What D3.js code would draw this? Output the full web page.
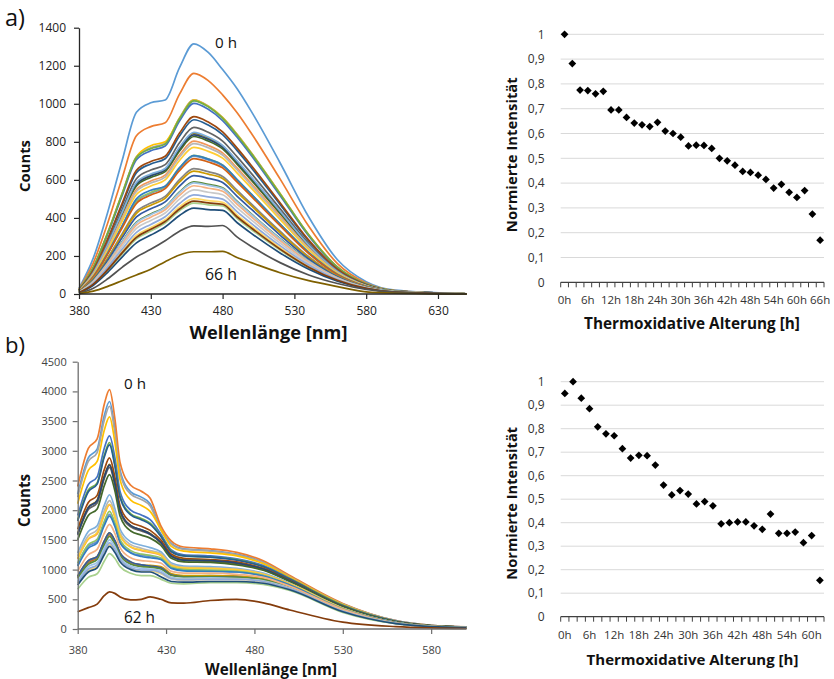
<!DOCTYPE html>
<html><head><meta charset="utf-8">
<script src="https://cdn.jsdelivr.net/npm/d3@7"></script>
<style>body{margin:0;background:#fff}svg{display:block}text{font-family:"Open Sans",sans-serif}</style>
</head><body><svg id="c" width="834" height="679"></svg>
<script>
// ---------- DATA ----------
const wavelengthsA = [380,390,400,410,420,430,440,450,460,470,480,490,500,520,540,560,580,600,650];
const spectraA = [
[30,190,430,700,955,1005,1020,1190,1315,1270,1180,1080,960,690,405,180,65,20,1],
[26,164,373,609,832,880,900,1051,1160,1122,1047,954,845,605,356,160,58,18,1],
[22,141,323,528,722,769,793,926,1021,989,928,841,742,529,311,142,52,17,1],
[22,141,322,527,720,780,800,924,1019,987,927,839,741,528,311,141,52,17,1],
[21,138,316,517,706,753,778,909,1002,971,912,825,728,518,305,139,52,16,1],
[22,140,320,525,717,764,788,921,1015,984,923,836,738,526,310,141,52,17,1],
[19,123,284,466,638,684,711,831,916,888,838,755,664,471,278,128,48,15,1],
[19,126,290,476,651,697,724,846,932,904,852,768,676,480,283,130,49,16,1],
[18,117,269,443,606,652,680,795,876,850,804,722,634,449,265,123,46,15,1],
[17,111,258,424,581,626,656,767,844,820,777,696,611,432,255,119,45,15,1],
[17,110,255,421,576,621,651,761,837,813,771,691,606,428,253,118,45,15,1],
[16,109,252,415,568,613,643,752,828,804,763,683,599,423,250,116,44,14,1],
[17,112,260,428,586,631,660,772,850,825,781,701,615,435,257,119,45,15,1],
[16,105,243,401,549,594,625,731,804,781,742,663,581,410,242,113,43,14,1],
[15,102,238,393,539,583,614,719,791,769,731,653,571,402,238,112,43,14,1],
[15,99,231,382,523,568,600,702,771,750,714,637,557,392,232,109,42,14,1],
[13,91,214,354,486,530,563,659,725,705,674,599,522,366,217,103,40,13,1],
[13,92,216,357,490,534,567,664,729,710,678,603,525,369,218,104,40,13,1],
[13,92,215,357,500,545,566,663,728,709,677,602,525,368,218,103,40,13,1],
[13,89,210,347,476,520,554,648,712,694,663,589,513,359,213,101,39,13,1],
[12,80,190,316,434,478,513,601,659,643,618,546,474,330,196,94,37,12,1],
[11,78,185,309,424,467,503,589,646,630,607,535,464,323,192,93,36,12,1],
[10,74,177,295,405,448,484,567,622,608,586,515,446,310,184,90,35,12,1],
[10,69,164,275,378,421,458,537,589,576,558,488,421,292,174,85,34,12,1],
[9,68,163,272,374,417,455,533,584,571,554,484,418,289,172,85,34,12,1],
[9,65,157,263,362,404,443,519,569,556,540,472,406,281,167,83,33,11,1],
[8,62,149,250,345,387,426,499,547,535,522,454,390,268,160,80,32,11,1],
[7,54,132,223,308,350,390,458,501,491,482,416,356,243,145,74,30,11,1],
[8,57,140,235,324,366,406,476,521,511,499,433,371,254,152,76,31,11,1],
[6,50,124,210,290,331,373,438,478,469,463,398,339,231,138,71,29,10,1],
[6,46,114,194,269,310,352,413,451,444,440,376,319,216,130,67,28,10,1],
[7,52,128,216,298,340,381,447,488,479,472,406,347,236,141,72,30,10,1],
[3,30,80,140,195,235,280,330,358,355,360,300,250,165,100,55,24,9,1],
[2,15,40,70,100,130,170,205,222,222,224,192,165,112,70,39,11,4,0]
];
const wavelengthsB = [380,386,391,395,398,401,404,410,416,421,427,433,440,455,470,485,500,530,560,580,600];
const spectraB = [
[2270,2880,3030,3590,3830,3380,2670,2310,2220,2110,1690,1440,1350,1320,1260,1130,890,420,140,60,34],
[2400,3040,3200,3780,4030,3550,2800,2420,2320,2200,1740,1480,1380,1350,1290,1150,900,430,140,60,35],
[2220,2820,2970,3510,3750,3310,2620,2270,2180,2070,1670,1430,1340,1310,1250,1120,880,420,140,60,34],
[2110,2670,2820,3340,3570,3150,2510,2170,2080,1980,1680,1390,1310,1280,1230,1100,870,410,130,57,33],
[1910,2430,2560,3040,3250,2890,2310,2000,1920,1840,1600,1330,1250,1230,1180,1070,850,400,130,56,32],
[1840,2340,2460,2920,3140,2780,2230,1940,1860,1780,1570,1310,1230,1210,1170,1050,840,400,130,55,32],
[1820,2310,2440,2890,3100,2750,2210,1920,1840,1760,1560,1300,1230,1210,1160,1050,840,390,130,55,32],
[1680,2130,2250,2680,2880,2560,2070,1800,1730,1660,1500,1260,1190,1170,1130,1020,820,380,120,53,31],
[1580,2010,2120,2530,2720,2430,1970,1720,1650,1590,1450,1220,1160,1140,1100,1000,810,380,120,52,30],
[1610,2050,2170,2570,2770,2470,2000,1740,1670,1610,1460,1230,1170,1150,1110,1010,810,380,120,53,30],
[1600,2040,2160,2560,2760,2460,2000,1740,1670,1600,1460,1230,1160,1150,1110,1010,810,380,120,53,30],
[1500,1910,2020,2410,2600,2330,1900,1650,1580,1530,1410,1190,1130,1120,1080,990,800,370,120,52,30],
[1280,1640,1740,2080,2260,2030,1680,1470,1410,1370,1300,1110,1060,1050,1020,940,770,350,110,49,28],
[1180,1510,1600,1920,2090,1890,1570,1380,1320,1290,1240,1070,1020,1020,990,920,760,345,110,48,27],
[1230,1570,1670,1990,2160,1950,1620,1420,1360,1320,1270,1090,1040,1030,1010,930,760,350,110,48,28],
[1190,1520,1620,1930,2100,1900,1580,1380,1330,1300,1250,1070,1030,1020,1000,920,760,350,110,48,27],
[1080,1390,1480,1770,1930,1760,1470,1290,1240,1220,1180,1030,990,980,960,900,740,340,110,47,26],
[1110,1420,1510,1810,1980,1790,1500,1320,1260,1240,1200,1040,1000,990,970,900,740,340,110,47,26],
[1060,1360,1450,1740,1900,1730,1450,1280,1220,1200,1170,1020,980,970,960,890,740,330,110,46,26],
[870,1120,1200,1450,1590,1460,1260,1110,1060,1060,1030,910,890,890,880,830,700,310,100,43,24],
[880,1140,1210,1460,1610,1480,1270,1120,1070,1060,1040,920,890,900,890,840,700,320,100,44,24],
[890,1150,1220,1480,1620,1490,1280,1130,1080,1070,1050,930,900,900,890,840,700,320,100,44,24],
[890,1150,1220,1480,1620,1490,1280,1130,1080,1060,1030,910,880,880,870,820,690,310,100,44,24],
[850,1090,1170,1410,1560,1430,1240,1090,1050,1040,1010,900,880,880,870,830,700,310,100,43,24],
[810,1050,1120,1360,1500,1390,1200,1060,1020,1010,980,870,850,860,850,810,690,300,95,42,23],
[970,1250,1340,1610,1760,1610,1370,1200,1150,1140,1110,970,940,940,920,870,720,330,100,45,25],
[770,990,1060,1290,1430,1320,1160,1020,980,980,930,840,820,830,830,790,670,300,93,41,23],
[770,990,1060,1290,1430,1320,1160,1020,980,980,940,850,830,840,840,800,680,300,93,41,23],
[780,1010,1080,1310,1450,1340,1170,1030,990,990,950,850,830,840,840,800,680,300,94,41,23],
[670,870,930,1140,1270,1190,1050,940,900,900,840,770,760,780,780,750,650,280,88,39,21],
[740,960,1030,1250,1390,1290,1130,1000,960,960,880,800,790,800,800,770,660,290,90,40,22],
[290,360,420,560,625,600,540,490,500,540,500,440,435,480,500,440,320,115,40,18,8]
];
const ticksXA = [380,430,480,530,580,630];
const ticksYA = [0,200,400,600,800,1000,1200,1400];
const ticksXB = [380,430,480,530,580];
const ticksYB = [0,500,1000,1500,2000,2500,3000,3500,4000,4500];

const hoursA = ["0h","2h","4h","6h","8h","10h","12h","14h","16h","18h","20h","22h","24h","26h","28h","30h","32h","34h","36h","38h","40h","42h","44h","46h","48h","50h","52h","54h","56h","58h","60h","62h","64h","66h"];
const intensA = [1,0.882,0.775,0.773,0.76,0.77,0.695,0.695,0.665,0.642,0.635,0.628,0.645,0.61,0.6,0.585,0.55,0.553,0.552,0.54,0.5,0.49,0.472,0.447,0.443,0.432,0.415,0.38,0.395,0.363,0.342,0.37,0.275,0.17];
const hoursB = ["0h","2h","4h","6h","8h","10h","12h","14h","16h","18h","20h","22h","24h","26h","28h","30h","32h","34h","36h","38h","40h","42h","44h","46h","48h","50h","52h","54h","56h","58h","60h","62h"];
const intensB = [0.95,1,0.93,0.885,0.808,0.778,0.77,0.715,0.675,0.687,0.685,0.645,0.56,0.518,0.537,0.522,0.48,0.49,0.472,0.395,0.4,0.403,0.403,0.387,0.372,0.437,0.355,0.355,0.36,0.315,0.345,0.155];
const ticksScatterY = [0,0.1,0.2,0.3,0.4,0.5,0.6,0.7,0.8,0.9,1];

// Excel 2013 default series colour cycle
const palette = ["#5B9BD5","#ED7D31","#A5A5A5","#FFC000","#4472C4","#70AD47","#255E91","#9E480E","#636363","#997300","#264478","#43682B","#7CAFDD","#F1975A","#B7B7B7","#FFCD33","#698ED0","#8CC168","#327DC2","#D26012","#848484","#CC9A00","#335AA1","#5A8A39","#9DC3E6","#F4B183","#C9C9C9","#FFD966","#8FAADC","#A9D18E","#1F4E79","#843C0C","#525252","#7F6000"];

// ---------- DRAWING ----------
const svg = d3.select("#c");
const deComma = v => String(v).replace(".", ",");

function addText(x, y, str, opts) {
  const t = svg.append("text").attr("x", x).attr("y", y).text(str)
    .attr("font-size", opts.size || 14)
    .attr("font-weight", opts.bold ? 700 : 400)
    .attr("fill", opts.color || "#111")
    .attr("text-anchor", opts.anchor || "start");
  if (opts.rotate) t.attr("transform", `rotate(-90,${x},${y})`);
  if (opts.width) {
    const L = t.node().getComputedTextLength();
    t.attr("font-size", (opts.size || 14) * opts.width / L);
  }
  return t;
}

function spectrum(cfg) {
  const x = d3.scaleLinear().domain(cfg.xDomain).range(cfg.xRange);
  const y = d3.scaleLinear().domain(cfg.yDomain).range(cfg.yRange);
  const g = svg.append("g");
  const line = d3.line().x(d => x(d[0])).y(d => y(d[1])).curve(d3.curveMonotoneX);
  cfg.series.forEach((vals, i) => {
    g.append("path")
      .datum(cfg.wl.map((w, k) => [w, vals[k]]))
      .attr("d", line).attr("fill", "none")
      .attr("stroke", palette[i % palette.length])
      .attr("stroke-width", 1.7).attr("stroke-linejoin", "round");
  });
  const fmt = d3.format("d");
  const ya = svg.append("g").attr("transform", `translate(${cfg.xRange[0]},0)`)
    .call(d3.axisLeft(y).tickValues(cfg.yTicks).tickFormat(fmt).tickSize(5).tickPadding(cfg.yPad).tickSizeOuter(0));
  const xa = svg.append("g").attr("transform", `translate(0,${cfg.yRange[0]})`)
    .call(d3.axisBottom(x).tickValues(cfg.xTicks).tickFormat(fmt).tickSize(5).tickPadding(cfg.xPad).tickSizeOuter(0));
  [ya, xa].forEach(a => {
    a.select(".domain").attr("stroke", cfg.axisColor).attr("stroke-width", 1.3);
    a.selectAll(".tick line").attr("stroke", cfg.axisColor).attr("stroke-width", 1.2);
    a.selectAll(".tick text").attr("fill", cfg.labelColor).attr("font-size", cfg.labelSize)
      .attr("font-family", '"Open Sans", sans-serif');
  });
  xa.select(".domain").attr("d", `M${cfg.xRange[0]},0H${cfg.xRange[1]}`);
}

spectrum({xDomain:[380,650], xRange:[79,466.7], yDomain:[0,1400], yRange:[294,27.7],
  wl: wavelengthsA, series: spectraA, xTicks: ticksXA, yTicks: ticksYA,
  yPad: 8, xPad: 7, axisColor:"#262626", labelColor:"#222", labelSize:12});
spectrum({xDomain:[380,600], xRange:[77.7,466.5], yDomain:[0,4500], yRange:[629,361.7],
  wl: wavelengthsB, series: spectraB, xTicks: ticksXB, yTicks: ticksYB,
  yPad: 6, xPad: 12, axisColor:"#6e6e6e", labelColor:"#444", labelSize:11});

function scatter(cfg) {
  const x = d3.scaleBand().domain(cfg.cats).range(cfg.xRange);
  const y = d3.scaleLinear().domain([0,1]).range(cfg.yRange);
  const g = svg.append("g");
  g.selectAll("line.grid").data(cfg.yTicks.filter(v => v > 0)).join("line")
    .attr("x1", cfg.xRange[0]).attr("x2", cfg.xRange[1])
    .attr("y1", d => y(d)).attr("y2", d => y(d))
    .attr("stroke", "#d9d9d9").attr("stroke-width", 1);
  g.selectAll("text.yl").data(cfg.yTicks).join("text")
    .attr("x", cfg.xRange[0] - 16).attr("y", d => y(d)).attr("dy", "0.35em")
    .attr("text-anchor", "end").attr("font-size", 12).attr("fill", "#333")
    .text(d => deComma(d));
  g.append("line").attr("x1", cfg.xRange[0]).attr("x2", cfg.xRange[1])
    .attr("y1", y(0)).attr("y2", y(0)).attr("stroke", "#404040").attr("stroke-width", 1.2);
  const bounds = cfg.cats.map(c => x(c)).concat([cfg.xRange[1]]);
  g.selectAll("line.tk").data(bounds).join("line")
    .attr("x1", d => d).attr("x2", d => d).attr("y1", y(0)).attr("y2", y(0) + 5)
    .attr("stroke", "#404040").attr("stroke-width", 1);
  g.selectAll("text.xl").data(cfg.cats.filter((c, i) => i % 3 === 0)).join("text")
    .attr("x", d => x(d) + x.bandwidth() / 2).attr("y", y(0) + 14).attr("dy", "0.71em")
    .attr("text-anchor", "middle").attr("font-size", 11.5).attr("fill", "#333").text(d => d);
  const sym = d3.symbol(d3.symbolSquare, 30);
  g.selectAll("path.pt").data(cfg.vals).join("path")
    .attr("d", sym())
    .attr("transform", (d, i) => `translate(${x(cfg.cats[i]) + x.bandwidth() / 2},${y(d)}) rotate(45)`)
    .attr("fill", "#000");
}

scatter({cats: hoursA, vals: intensA, xRange:[560.7,824], yRange:[282.3,34.3], yTicks: ticksScatterY});
scatter({cats: hoursB, vals: intensB, xRange:[560.7,824], yRange:[616.7,381.7], yTicks: ticksScatterY});

// ---------- TEXT ----------
addText(5, 26, "a)", {size:20, width:20, color:"#111"});
addText(5, 353, "b)", {size:20, width:20, color:"#111"});
addText(30, 166, "Counts", {size:15, bold:true, rotate:true, anchor:"middle", width:52});
addText(30, 500.5, "Counts", {size:15, bold:true, rotate:true, anchor:"middle", width:53});
addText(268.5, 339, "Wellenlänge [nm]", {size:15, bold:true, anchor:"middle", width:158});
addText(271, 675, "Wellenlänge [nm]", {size:15, bold:true, anchor:"middle", width:132});
addText(517, 154.7, "Normierte Intensität", {size:14, bold:true, rotate:true, anchor:"middle", width:155});
addText(517, 503.3, "Normierte Intensität", {size:14, bold:true, rotate:true, anchor:"middle", width:153});
addText(692, 329, "Thermoxidative Alterung [h]", {size:14, bold:true, anchor:"middle", width:216});
addText(692.5, 665, "Thermoxidative Alterung [h]", {size:14, bold:true, anchor:"middle", width:212});
addText(215, 48, "0 h", {size:15, width:22});
addText(205, 280, "66 h", {size:15, width:32});
addText(124, 389, "0 h", {size:15, width:22});
addText(124, 623, "62 h", {size:15, width:31});
</script></body></html>
